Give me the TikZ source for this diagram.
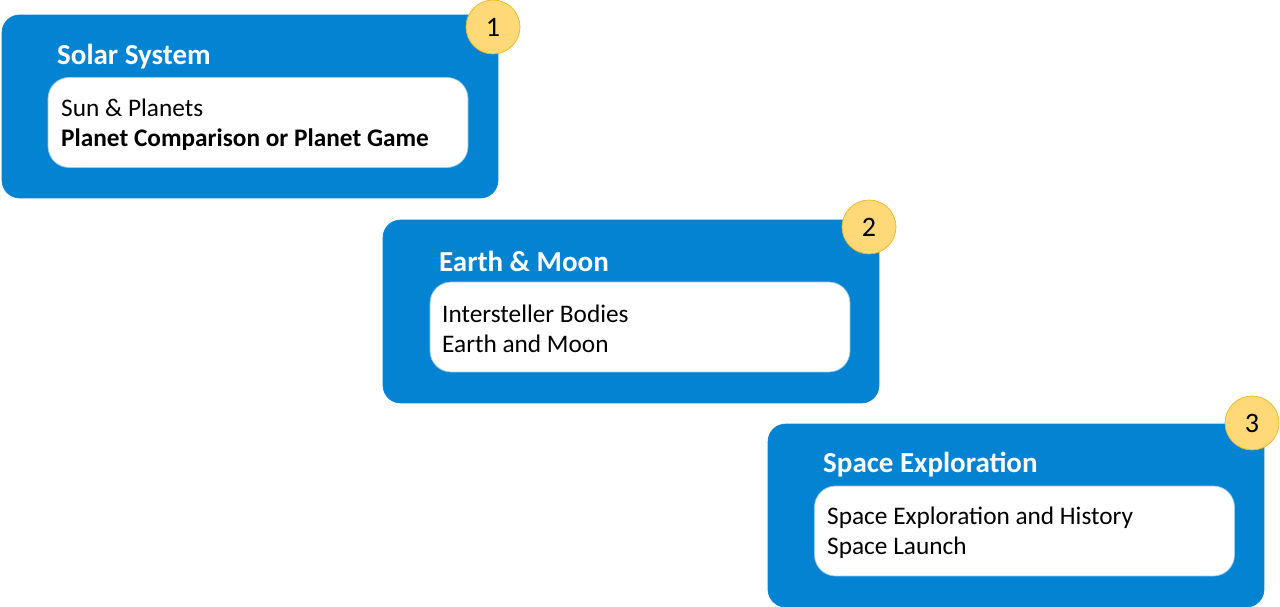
\documentclass[tikz,border=0pt]{standalone}
\usepackage{fontspec}
\setmainfont{Carlito}
\usetikzlibrary{positioning}
\definecolor{skyblue}{HTML}{0483D2}
\definecolor{badgefill}{HTML}{FFD978}
\definecolor{badgeline}{HTML}{EFB520}
\tikzset{
  topic/.style={fill=skyblue,draw=skyblue,rounded corners=10pt,minimum width=9.92cm,minimum height=3.66cm,inner sep=0pt},
  lessons/.style={fill=white,draw=skyblue!40,rounded corners=12pt,minimum width=8.4cm,minimum height=1.8cm,inner sep=0pt},
  heading/.style={text=white,font=\fontsize{16.5}{20}\bfseries,anchor=west},
  body/.style={align=left,font=\fontsize{14.4}{17}\selectfont,anchor=west},
  badge/.style={circle,fill=badgefill,draw=badgeline,thin,minimum size=1.08cm,inner sep=0pt,font=\fontsize{16}{18}\selectfont}
}
\begin{document}
\begin{tikzpicture}[x=0.02cm,y=-0.02cm]
\useasboundingbox (0,0) rectangle (1280,607);

% step 1
\node[topic] (solar) at (250,106.5) {};
\node[lessons] (solarlist) at (258,122.5) {};
\node[heading] (solartitle) at (51,57) {Solar System};
\node[body] (solartext) at (55,125) {Sun \& Planets\\\textbf{Planet Comparison or Planet Game}};
\node[badge] (one) at (493,27) {1};

% step 2
\node[topic] (earth) at (631,311.5) {};
\node[lessons] (earthlist) at (640,327) {};
\node[heading] (earthtitle) at (433,261) {Earth \& Moon};
\node[body] (earthtext) at (436,329) {Intersteller Bodies\\Earth and Moon};
\node[badge] (two) at (869,227) {2};

% step 3
\node[topic] (space) at (1016,515.5) {};
\node[lessons] (spacelist) at (1024.5,531) {};
\node[heading] (spacetitle) at (817,465) {Space Exploration};
\node[body] (spacetext) at (821,533) {Space Exploration and History\\Space Launch};
\node[badge] (three) at (1252,423) {3};
\end{tikzpicture}
\end{document}
